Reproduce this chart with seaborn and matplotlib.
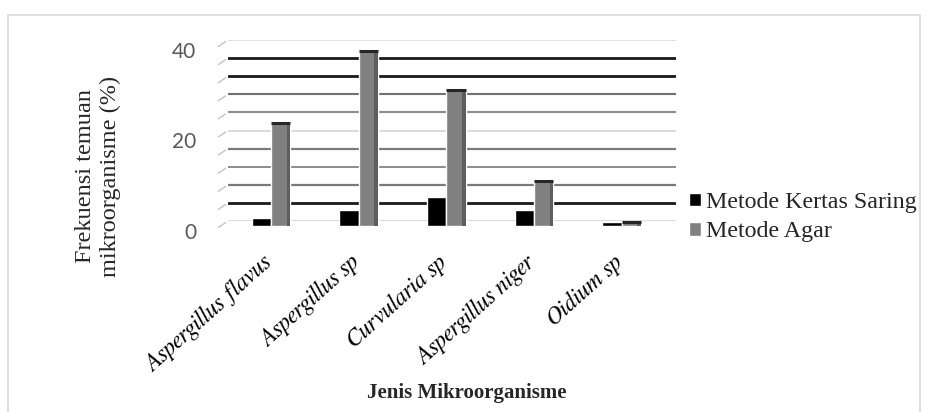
import matplotlib
matplotlib.use("Agg")
import matplotlib.pyplot as plt
import seaborn as sns
import pandas as pd
from matplotlib.patches import Patch, Rectangle
from matplotlib.transforms import ScaledTranslation

categories = ["Aspergillus flavus", "Aspergillus sp", "Curvularia sp",
              "Aspergillus niger", "Oidium sp"]
kertas_saring = [1.8, 3.6, 6.3, 3.6, 0.9]
agar = [22.7, 38.6, 30.0, 10.0, 0.9]
series_names = ["Metode Kertas Saring", "Metode Agar"]
y_ticks = [0, 20, 40]
y_tick_labels = ["0", "20", "40"]

df = pd.DataFrame({
    "Jenis": categories * 2,
    "Metode": [series_names[0]] * len(categories) + [series_names[1]] * len(categories),
    "Frekuensi": kertas_saring + agar,
})

sns.set_theme(style="white")
plt.rcParams["font.family"] = ["Liberation Serif", "FreeSerif", "DejaVu Serif"]

W, H = 927, 412
fig = plt.figure(figsize=(W / 100, H / 100), dpi=100)


def fx(px):
    return px / W


def fy(py):
    return 1 - py / H


left, right, top, bottom = 228, 676, 40, 221
depth = 5  # the bars stand a few pixels in front of the back wall

# back wall with gridlines and the value axis
wall = fig.add_axes([fx(left), fy(bottom), (right - left) / W, (bottom - top) / H])
# front plane carrying the bars and categories
ax = fig.add_axes([fx(left), fy(bottom + depth), (right - left) / W, (bottom - top) / H])
ax.patch.set_alpha(0)

grid_styles = {
    0: ("#d4d4d4", 1.2), 4: ("#1a1a1a", 2.0), 8: ("#7a7a7a", 1.6),
    12: ("#8c8c8c", 1.4), 16: ("#7a7a7a", 1.6), 20: ("#d4d4d4", 1.2),
    24: ("#8c8c8c", 1.5), 28: ("#707070", 1.5), 32: ("#1a1a1a", 2.0),
    36: ("#1a1a1a", 2.0), 40: ("#d9d9d9", 1.2),
}
for yv, (col, lw) in grid_styles.items():
    wall.axhline(yv, color=col, lw=lw, zorder=1)
    # short receding side-wall stroke at the left end of each gridline
    wall.annotate("", xy=(0, yv), xycoords=("axes fraction", "data"),
                  xytext=(-12, -8), textcoords="offset pixels",
                  arrowprops=dict(arrowstyle="-", color="#c4c4c4", lw=1),
                  annotation_clip=False)
wall.set_ylim(0, 40)
wall.set_xticks([])
wall.set_yticks(y_ticks)
wall.set_yticklabels(y_tick_labels, family=["Lato", "DejaVu Sans"],
                     fontsize=15, color="#595959")
wall.tick_params(axis="y", length=0, pad=23)
for lbl in wall.get_yticklabels():
    lbl.set_transform(lbl.get_transform()
                      + ScaledTranslation(0, -0.10, fig.dpi_scale_trans))

sns.barplot(data=df, x="Jenis", y="Frekuensi", hue="Metode",
            palette=["#000000", "#808080"], width=0.44, saturation=1,
            legend=False, ax=ax, zorder=3)

# depth cues on each bar: dark cap and darker right face
n = len(categories)
for i, p in enumerate(ax.patches[:2 * n]):
    x0, w, h = p.get_x(), p.get_width(), p.get_height()
    if i >= n:
        ax.add_patch(Rectangle((x0 + w * 0.82, 0), w * 0.18, h,
                               fc="#5e5e5e", ec="none", zorder=4))
        ax.plot([x0, x0 + w], [h, h], color="#262626", lw=2.2, zorder=5,
                solid_capstyle="butt")

ax.set_xlim(-0.49, 4.62)
ax.set_ylim(0, 40)
ax.set_yticks([])
for a in (ax, wall):
    for s in a.spines.values():
        s.set_visible(False)

ax.set_xticks(range(n))
ax.set_xticklabels(categories, rotation=42, ha="right", rotation_mode="anchor",
                   family=["FreeSerif"], fontstyle="italic", fontsize=17,
                   color="#000000")
ax.tick_params(axis="x", length=0, pad=18)
for lbl in ax.get_xticklabels():
    lbl.set_transform(lbl.get_transform()
                      + ScaledTranslation(-0.10, 0, fig.dpi_scale_trans))
ax.set_xlabel("")
ax.set_ylabel("")

fig.text(fx(98), fy(176), "Frekuensi temuan\nmikroorganisme (%)",
         rotation=90, ha="center", va="center", fontsize=17.5, linespacing=1.2)
fig.text(fx(467), fy(393), "Jenis Mikroorganisme", fontweight="bold",
         fontsize=15, ha="center", va="center", color="#262626")

fig.legend(handles=[Patch(fc="#000000"), Patch(fc="#808080")],
           labels=series_names, loc="upper left",
           bbox_to_anchor=(fx(689), fy(192)), frameon=False, fontsize=17.3,
           handlelength=0.5, handleheight=0.5, handletextpad=0.2,
           labelspacing=0.35, borderpad=0, borderaxespad=0)

fig.add_artist(Rectangle((fx(8), fy(420)), fx(920) - fx(8), fy(15) - fy(420),
                         transform=fig.transFigure, fill=False,
                         ec="#d9d9d9", lw=1.2))

fig.savefig("out.png", dpi=100)
